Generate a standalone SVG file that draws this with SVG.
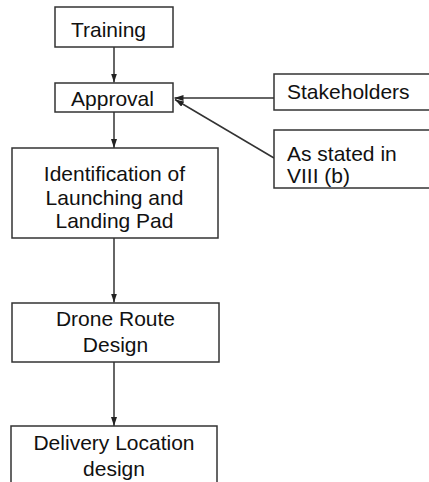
<svg xmlns="http://www.w3.org/2000/svg" width="429" height="482" viewBox="0 0 429 482">
<defs>
<marker id="ah" viewBox="0 0 10 10" refX="10" refY="5" markerWidth="9" markerHeight="6" markerUnits="userSpaceOnUse" orient="auto" preserveAspectRatio="none">
<path d="M0,0 L10,5 L0,10 z" fill="#222"/>
</marker>
<style>
.box{fill:#fff;stroke:#333;stroke-width:1.5}
.t{font-family:"Liberation Sans",Arial,sans-serif;font-size:21px;fill:#111}
.c{text-anchor:middle}
.e{stroke:#333;stroke-width:1.5;fill:none;marker-end:url(#ah)}
</style>
</defs>
<rect width="429" height="482" fill="#fff"/>
<g id="edges">
<line class="e" x1="114" y1="47" x2="114" y2="82.5"/>
<line class="e" x1="114" y1="112" x2="114" y2="148"/>
<line class="e" x1="274" y1="98" x2="174.5" y2="98"/>
<line class="e" x1="274" y1="158" x2="175" y2="99.5"/>
<line class="e" x1="114" y1="238" x2="114" y2="302.5"/>
<line class="e" x1="114" y1="362" x2="114" y2="426"/>
</g>
<g id="training">
<rect class="box" x="55" y="7" width="118" height="40"/>
<text class="t c" x="108.5" y="37.3">Training</text>
</g>
<g id="approval">
<rect class="box" x="55" y="83" width="118" height="29"/>
<text class="t c" x="112.5" y="105.5">Approval</text>
</g>
<g id="identification">
<rect class="box" x="12" y="148" width="206" height="90"/>
<text class="t c" x="114.5" y="181">Identification of</text>
<text class="t c" x="114.5" y="204.5">Launching and</text>
<text class="t c" x="114.5" y="228">Landing Pad</text>
</g>
<g id="stakeholders">
<rect class="box" x="274" y="74" width="160" height="36"/>
<text class="t" x="287" y="99">Stakeholders</text>
</g>
<g id="stated">
<rect class="box" x="274" y="130" width="160" height="58"/>
<text class="t" x="287" y="161">As stated in</text>
<text class="t" x="287" y="183">VIII (b)</text>
</g>
<g id="drone">
<rect class="box" x="12" y="303" width="207" height="59"/>
<text class="t c" x="115.5" y="326">Drone Route</text>
<text class="t c" x="115.5" y="352">Design</text>
</g>
<g id="delivery">
<rect class="box" x="11" y="426" width="206" height="60"/>
<text class="t c" x="114" y="450">Delivery Location</text>
<text class="t c" x="114" y="476">design</text>
</g>
</svg>
